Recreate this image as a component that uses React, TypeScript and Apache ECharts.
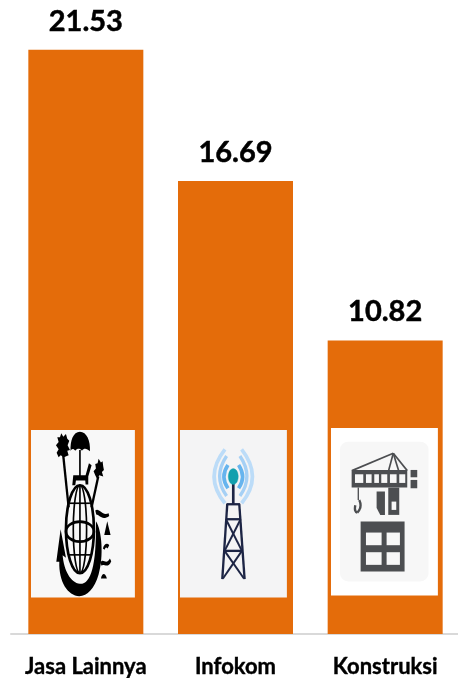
import React, { useEffect, useRef } from "react";
import * as echarts from "echarts";

const categories = ["Jasa Lainnya", "Infokom", "Konstruksi"];
const values = [21.53, 16.69, 10.82];
const valueLabels = ["21.53", "16.69", "10.82"];

const FONT = "Lato, 'Open Sans', sans-serif";
const BLACK = "#000000";
const NAVY = "#1d2545";
const GREY = "#4c4e51";
const TOP = 100;

const reg = (name: string, d: string) => echarts.graphic.registerShape(name, echarts.graphic.extendPath(d, {}));

reg("palmL", "M124 40 L130 50 L138 42 L142 56 L148 62 L143 76 L150 90 L142 92 L146 106 L132 112 L122 106 L116 112 L110 98 L116 88 L108 76 L116 66 L112 52 L120 52Z");
reg("palmR", "M236 116 L243 128 L248 124 L250 140 L252 150 L246 156 L250 170 L238 166 L232 178 L226 166 L221 154 L228 146 L226 132 L233 130Z");
reg("dome", "M180 35 C200 35 212 62 210 94 C200 84 192 84 186 92 C180 84 172 84 166 92 C160 84 154 86 152 94 C150 62 160 35 180 35Z");
reg("chair", "M207 130 L215 136 L205 170 L205 194 L197 194 L196 182 L168 182 L166 196 L157 196 L160 166 L197 166Z");
reg("swoosh", "M122 328 L138 414 L128 406 C132 452 152 488 180 492 C212 494 230 440 228 304 C246 330 252 410 236 464 C224 506 202 529 178 529 C144 529 116 486 118 426 L109 426Z");
reg("tildeA", "M226 272 C238 262 246 290 266 280 L268 288 C246 304 238 284 229 284Z");
reg("triA", "M262 304 L272 345 L253 345Z");
reg("blobA", "M249 386 C252 372 262 368 268 376 L263 386 C258 380 256 384 254 390Z");
reg("tildeB", "M241 428 C250 412 258 438 270 416 L274 424 C264 450 250 428 245 438Z");
reg("blobB", "M243 476 C246 460 255 456 261 476Z");
reg("cab", "M170 215 L195 215 L195 285 L181 285 L170 264Z");

const line = (x1: number, y1: number, x2: number, y2: number, stroke: string, lineWidth: number) => ({
  type: "line", z: TOP, shape: { x1, y1, x2, y2 }, style: { stroke, lineWidth },
});
const bez = (x1: number, y1: number, cpx1: number, cpy1: number, x2: number, y2: number, stroke: string, lineWidth: number) => ({
  type: "bezierCurve", z: TOP, shape: { x1, y1, cpx1, cpy1, x2, y2 }, style: { stroke, lineWidth, fill: "none" },
});
const box = (x: number, y: number, width: number, height: number, fill: string, r = 0) => ({
  type: "rect", z: TOP, shape: { x, y, width, height, r }, style: { fill },
});
const oval = (cx: number, cy: number, rx: number, ry: number, stroke: string, lineWidth: number, fill = "none") => ({
  type: "ellipse", z: TOP, shape: { cx, cy, rx, ry }, style: { stroke, lineWidth, fill },
});
const solid = (type: string, fill = BLACK) => ({ type, z: TOP, style: { fill } });

const iconGlobe = [
  box(33, 30, 312, 503, "#f8f8f8"),
  line(130, 108, 146, 262, BLACK, 7),
  line(235, 170, 215, 262, BLACK, 7),
  line(180, 90, 180, 170, BLACK, 5),
  solid("palmL"),
  solid("palmR"),
  solid("dome"),
  solid("chair"),
  oval(180, 328, 42, 132, BLACK, 8),
  oval(180, 328, 20, 132, BLACK, 5),
  line(180, 196, 180, 460, BLACK, 5),
  oval(180, 335, 42, 30, BLACK, 8),
  line(150, 250, 210, 250, BLACK, 5),
  line(145, 405, 215, 405, BLACK, 5),
  solid("swoosh"),
  solid("tildeA"),
  solid("triA"),
  solid("blobA"),
  solid("tildeB"),
  solid("blobB"),
];

const iconTower = [
  box(30, 30, 321, 503, "#f4f4f5"),
  bez(165, 88, 100, 170, 165, 250, "#bcdcf8", 11),
  bez(215, 88, 280, 170, 215, 250, "#bcdcf8", 11),
  bez(170, 108, 128, 170, 170, 228, "#a5d0f5", 10),
  bez(210, 108, 252, 170, 210, 228, "#a5d0f5", 10),
  bez(174, 135, 150, 170, 174, 205, "#66b4ee", 11),
  bez(206, 135, 230, 170, 206, 205, "#66b4ee", 11),
  line(190, 190, 190, 252, NAVY, 8),
  oval(190, 170, 15, 24, "#13a0ae", 1, "#13a0ae"),
  line(170, 253, 210, 253, NAVY, 7),
  line(172, 252, 157, 478, NAVY, 7),
  line(208, 252, 224, 478, NAVY, 7),
  line(168, 298, 212, 298, NAVY, 7),
  line(163, 393, 218, 393, NAVY, 7),
  line(168, 298, 216, 393, NAVY, 6),
  line(212, 298, 164, 393, NAVY, 6),
  line(164, 393, 222, 476, NAVY, 6),
  line(216, 393, 159, 476, NAVY, 6),
];

const iconCrane = [
  box(33, 24, 321, 503, "#ffffff"),
  box(60, 65, 266, 420, "#f7f7f7", 25),
  line(96, 152, 220, 100, GREY, 5),
  line(220, 100, 262, 152, GREY, 5),
  line(220, 100, 206, 152, GREY, 5),
  line(220, 100, 236, 152, GREY, 5),
  box(95, 150, 167, 53, GREY),
  box(105, 163, 25, 26, "#f7f7f7"),
  box(138, 163, 17, 26, "#f7f7f7"),
  box(163, 163, 14, 26, "#f7f7f7"),
  box(184, 163, 18, 26, "#f7f7f7"),
  box(210, 163, 20, 26, "#f7f7f7"),
  box(238, 163, 18, 26, "#f7f7f7"),
  box(272, 150, 20, 22, GREY),
  box(272, 180, 20, 25, GREY),
  box(205, 203, 33, 82, GREY),
  box(215, 245, 14, 25, "#f7f7f7"),
  solid("cab", GREY),
  line(115, 203, 115, 240, GREY, 4),
  bez(118, 240, 128, 262, 112, 278, GREY, 7),
  bez(112, 278, 102, 276, 106, 256, GREY, 7),
  box(122, 305, 132, 150, GREY),
  box(138, 338, 47, 38, "#f7f7f7"),
  box(200, 338, 40, 38, "#f7f7f7"),
  box(138, 397, 47, 38, "#f7f7f7"),
  box(200, 397, 40, 38, "#f7f7f7"),
];

const group = (x: number, y: number, children: any[]) => ({
  type: "group", x, y, scaleX: 1 / 3, scaleY: 1 / 3, silent: true, children,
});

export default function App() {
  const ref = useRef<HTMLDivElement>(null);
  useEffect(() => {
    const chart = echarts.init(ref.current!, null, { renderer: "svg" });
    chart.setOption({
      animation: false,
      grid: { left: 11, top: 37, width: 449, height: 597, containLabel: false, outerBoundsMode: "none" },
      xAxis: {
        type: "category",
        data: categories,
        axisLine: { show: true, lineStyle: { color: "#d9d9d9", width: 2 } },
        axisTick: { show: false },
        axisLabel: {
          color: BLACK, fontFamily: FONT, fontWeight: "bold", fontSize: 22, margin: 20, interval: 0,
          hideOverlap: false, textBorderColor: BLACK, textBorderWidth: 0.4,
        },
      },
      yAxis: { type: "value", min: 0, max: 22, show: false, splitLine: { show: false } },
      series: [
        {
          type: "bar",
          data: values,
          barWidth: 115,
          itemStyle: { color: "#e46c0a" },
          z: 3,
          label: {
            show: true,
            position: "top",
            distance: 16,
            color: BLACK,
            fontFamily: FONT,
            fontWeight: "bold",
            fontSize: 29,
            textBorderColor: BLACK,
            textBorderWidth: 0.5,
            formatter: (p: any) => valueLabels[p.dataIndex],
          },
        },
      ],
      graphic: { elements: [group(20, 420, iconGlobe), group(170, 420, iconTower), group(320, 420, iconCrane)] },
    });
    return () => chart.dispose();
  }, []);
  return <div ref={ref} style={{ position: "fixed", left: 0, top: 0, width: 458, height: 678 }} />;
}
